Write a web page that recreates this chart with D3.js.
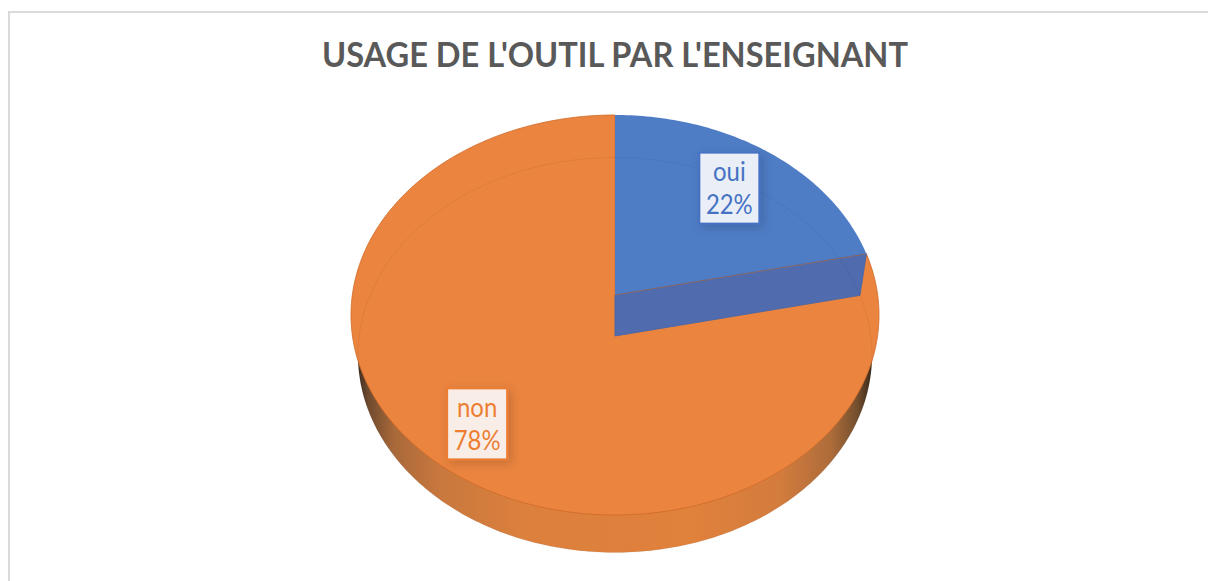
<!DOCTYPE html>
<html>
<head>
<meta charset="utf-8">
<script src="https://cdnjs.cloudflare.com/ajax/libs/d3/7.8.5/d3.min.js"></script>
<style>
  html, body { margin: 0; padding: 0; background: #fff; overflow: hidden; }
</style>
</head>
<body>
<script>
var chartTitle = "USAGE DE L'OUTIL PAR L'ENSEIGNANT";
var categories = ["oui", "non"];
var shares = [21.6, 78.4];

var sliceColors = ["#4e7cc5", "#ea843f"];
var labelColors = ["#4472c4", "#ed7d31"];
var labelBoxColors = ["#e9eef7", "#f9eee7"];
var wallColors = ["#506cae", "#e0813c"];

var svgWidth = 1208;
var svgHeight = 581;

// top face and bottom face of the disc, as the perspective draws them
var topFace = { cx: 615, cy: 315, rx: 264, ry: 200, lift: 20 };
var bottomFace = { cx: 615, cy: 355, rx: 257, ry: 197.5, lift: 19 };
var labelRadius = [0.733, 0.785];

var svg = d3.select("body")
  .append("svg")
  .attr("width", svgWidth)
  .attr("height", svgHeight)
  .style("display", "block");

var defs = svg.append("defs");

var wallGradient = defs.append("linearGradient")
  .attr("id", "wallGradient")
  .attr("gradientUnits", "userSpaceOnUse")
  .attr("x1", bottomFace.cx - bottomFace.rx)
  .attr("x2", bottomFace.cx + bottomFace.rx)
  .attr("y1", 0)
  .attr("y2", 0);

[[0, "#3f2e20"], [0.02, "#6e4a2e"], [0.07, "#a9693a"], [0.16, "#c9783e"], [0.32, "#dc803d"],
 [0.65, "#e0813c"], [0.82, "#d37c3d"], [0.92, "#ae6c3a"], [0.97, "#75502f"], [1, "#3a2a1c"]]
  .forEach(function(s) {
    wallGradient.append("stop").attr("offset", s[0]).attr("stop-color", s[1]);
  });

var shadow = defs.append("filter")
  .attr("id", "labelShadow")
  .attr("x", "-30%").attr("y", "-30%")
  .attr("width", "160%").attr("height", "160%");
shadow.append("feDropShadow")
  .attr("dx", 3).attr("dy", 3)
  .attr("stdDeviation", 5)
  .attr("flood-color", "#000")
  .attr("flood-opacity", 0.16);

// chart frame, runs past the right and bottom of the window
svg.append("rect")
  .attr("x", 9)
  .attr("y", 12)
  .attr("width", svgWidth + 40)
  .attr("height", svgHeight + 40)
  .attr("fill", "#fff")
  .attr("stroke", "#d9d9d9")
  .attr("stroke-width", 2);

svg.append("text")
  .attr("x", 615)
  .attr("y", 67)
  .attr("text-anchor", "middle")
  .attr("font-family", "Lato, 'Open Sans', sans-serif")
  .attr("font-weight", "bold")
  .attr("font-size", 34)
  .attr("textLength", 586)
  .attr("lengthAdjust", "spacingAndGlyphs")
  .attr("fill", "#595959")
  .text(chartTitle);

var pie = d3.pie().sort(null).value(function(d) { return d; });
var slices = pie(shares);

// circle point (angle clockwise from the top, r from 0 to 1) to the screen
function project(face, angle, r) {
  var u = r * Math.sin(angle);
  var v = r * Math.cos(angle);
  var c = face.lift / face.ry;
  var w = 1 + c * v;
  return [
    face.cx + face.rx * Math.sqrt(1 - c * c) * u / w,
    face.cy - (face.ry * v + face.lift) / w
  ];
}

var line = d3.line();

function rimPoints(face, a0, a1) {
  var n = Math.max(2, Math.ceil((a1 - a0) * 60));
  return d3.range(n + 1).map(function(i) {
    return project(face, a0 + (a1 - a0) * i / n, 1);
  });
}

function slicePath(d) {
  return line([project(topFace, 0, 0)].concat(rimPoints(topFace, d.startAngle, d.endAngle))) + "Z";
}

// side of the disc
svg.append("path")
  .attr("d", line(rimPoints(bottomFace, 0, 2 * Math.PI)) + "Z")
  .attr("fill", "url(#wallGradient)");

// non face goes first, the oui wedge sits on top of it
svg.selectAll(".slice")
  .data([slices[1], slices[0]])
  .enter()
  .append("path")
  .attr("class", "slice")
  .attr("d", slicePath)
  .attr("fill", function(d) { return sliceColors[d.index]; })
  .attr("stroke", function(d) { return d.index === 0 ? "none" : "#cf6a28"; })
  .attr("stroke-width", 0.8);

// cut wall of the oui wedge
var oui = slices[0];
svg.append("path")
  .attr("d", line([
    project(topFace, oui.endAngle, 0),
    project(topFace, oui.endAngle, 1),
    project(bottomFace, oui.endAngle, 1),
    project(bottomFace, oui.endAngle, 0)
  ]) + "Z")
  .attr("fill", wallColors[0])
  .attr("stroke", "#3f63ad")
  .attr("stroke-width", 0.8);

svg.append("line")
  .attr("x1", project(topFace, oui.endAngle, 0)[0])
  .attr("y1", project(topFace, oui.endAngle, 0)[1])
  .attr("x2", project(topFace, oui.endAngle, 1)[0])
  .attr("y2", project(topFace, oui.endAngle, 1)[1])
  .attr("stroke", "#8a6a6a")
  .attr("stroke-width", 1);

// bottom rim showing faintly through the top face
svg.append("path")
  .attr("d", line(rimPoints(bottomFace, 0, 2 * Math.PI)) + "Z")
  .attr("fill", "none")
  .attr("stroke", "#000")
  .attr("stroke-opacity", 0.05)
  .attr("stroke-width", 1);

// data labels
var boxWidth = 60;
var boxHeight = 71;

var labels = svg.selectAll(".label")
  .data(slices)
  .enter()
  .append("g")
  .attr("class", "label")
  .attr("transform", function(d) {
    var mid = (d.startAngle + d.endAngle) / 2;
    var p = project(topFace, mid, labelRadius[d.index]);
    return "translate(" + p[0] + "," + p[1] + ")";
  });

labels.append("rect")
  .attr("x", -boxWidth / 2)
  .attr("y", -boxHeight / 2)
  .attr("width", boxWidth)
  .attr("height", boxHeight)
  .attr("fill", function(d) { return labelBoxColors[d.index]; })
  .attr("stroke", function(d) { return labelColors[d.index]; })
  .attr("stroke-width", 2)
  .attr("filter", "url(#labelShadow)");

labels.append("text")
  .attr("text-anchor", "middle")
  .attr("transform", "translate(0,-7) scale(0.92,1)")
  .attr("font-family", "Lato, 'Open Sans', sans-serif")
  .attr("font-size", 26)
  .attr("fill", function(d) { return labelColors[d.index]; })
  .text(function(d) { return categories[d.index]; });

labels.append("text")
  .attr("text-anchor", "middle")
  .attr("transform", "translate(0,26) scale(0.92,1)")
  .attr("font-family", "Lato, 'Open Sans', sans-serif")
  .attr("font-size", 26)
  .attr("fill", function(d) { return labelColors[d.index]; })
  .text(function(d) { return Math.round(d.value) + "%"; });
</script>
</body>
</html>
